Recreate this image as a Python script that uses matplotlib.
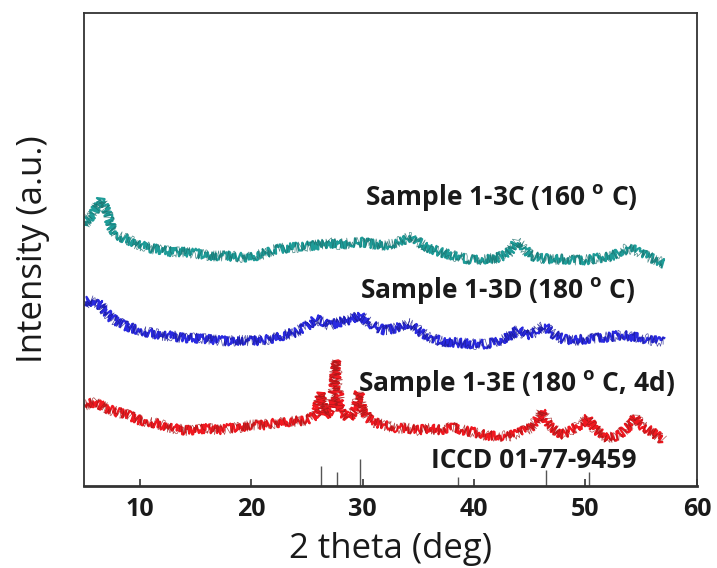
import matplotlib
matplotlib.use("Agg")
import matplotlib.pyplot as plt

plt.rcParams['font.family'] = ['Open Sans', 'DejaVu Sans']
plt.rcParams['mathtext.fontset'] = 'custom'
plt.rcParams['mathtext.rm'] = 'Open Sans'
plt.rcParams['mathtext.bf'] = 'Open Sans:bold'

# 2 theta positions (deg) and intensities (a.u.)
tt_c = [5, 5.5, 6, 6.5, 7, 7.5, 8, 9, 10, 11, 12, 13, 14, 15, 16, 17, 18, 19, 20,
        21, 22, 23, 24, 25, 26, 27, 28, 29, 30, 31, 32, 33, 34, 34.5, 35, 36, 37,
        38, 39, 40, 41, 42, 43, 43.8, 44.3, 45, 46, 47, 48, 49, 50, 51, 52, 53,
        53.8, 54.5, 55, 56, 57]
int_c = [275, 282, 290, 300, 290, 272, 265, 260, 255, 252, 250, 248, 248, 247, 245,
         244, 244, 243, 243, 246, 250, 252, 253, 254, 255, 257, 256, 257, 258, 256,
         255, 257, 262, 264, 258, 252, 248, 245, 242, 240, 241, 242, 246, 258, 255,
         245, 242, 241, 241, 240, 240, 242, 243, 247, 252, 250, 246, 242, 237]

tt_d = [5, 5.5, 6, 6.5, 7, 7.5, 8, 9, 10, 11, 12, 13, 14, 15, 16, 17, 18, 19, 20,
        21, 22, 23, 24, 25, 25.8, 26.5, 27, 28, 29, 29.7, 30.3, 31, 32, 33, 34,
        34.5, 35, 36, 37, 38, 39, 40, 41, 42, 43, 44, 44.7, 45.5, 46.2, 47, 48,
        49, 50, 51, 52, 53, 54, 55, 56, 57]
int_d = [195, 200, 197, 195, 188, 182, 178, 173, 170, 167, 165, 164, 162, 162, 161,
         160, 159, 160, 159, 160, 162, 165, 168, 174, 181, 178, 175, 178, 181, 185,
         180, 174, 170, 172, 177, 175, 170, 163, 159, 158, 157, 156, 156, 158, 163,
         170, 165, 168, 175, 167, 161, 160, 161, 162, 163, 165, 164, 162, 160, 158]

tt_e = [5, 6, 7, 8, 9, 10, 11, 12, 13, 14, 15, 16, 17, 18, 19, 20, 21, 22, 23, 24,
        25, 25.8, 26.2, 26.6, 27.1, 27.4, 27.6, 27.8, 28.1, 28.8, 29.4, 29.7, 30.0,
        30.5, 31, 32, 33, 34, 35, 36, 37, 38, 39, 40, 41, 42, 43, 44, 45, 45.6,
        46.1, 46.7, 47.5, 48, 49, 49.6, 50.2, 50.8, 51.5, 52, 53, 54, 54.5, 55, 56,
        57]
int_e = [95, 98, 92, 88, 85, 80, 78, 75, 72, 70, 70, 72, 70, 72, 73, 75, 75, 77, 78,
         79, 80, 85, 107, 85, 88, 110, 140, 110, 88, 82, 92, 108, 92, 82, 78, 75, 72,
         72, 70, 72, 70, 73, 70, 68, 65, 64, 64, 67, 72, 80, 90, 75, 68, 66, 72, 76,
         82, 72, 65, 62, 65, 75, 83, 75, 68, 60]

# reference pattern sticks
ref_tt = [26.3, 27.7, 29.8, 38.6, 46.5, 50.3]
ref_h = [20, 14, 27, 9, 16, 14]

labels = ['Sample 1-3C (160 $^{\\mathbf{o}}$ C)',
          'Sample 1-3D (180 $^{\\mathbf{o}}$ C)',
          'Sample 1-3E (180 $^{\\mathbf{o}}$ C, 4d)',
          'ICCD 01-77-9459']
label_x = [30.2, 29.8, 29.6, 36.1]
label_y = [303, 210, 117, 40]

fig = plt.figure(figsize=(7.17, 5.68), dpi=100)
ax = fig.add_axes([0.117, 0.144, 0.855, 0.833])

series = [(tt_c, int_c, '#1e9c98', '#1d6e6c'),
          (tt_d, int_d, '#2a2ae0', '#1a1a90'),
          (tt_e, int_e, '#f01820', '#a01818')]
for tt, it, c_light, c_dark in series:
    l1, = ax.plot(tt, it, color=c_light, lw=1.6)
    l1.set_sketch_params(scale=4.5, length=0.7, randomness=3)
    l2, = ax.plot(tt, it, color=c_dark, lw=0.5, alpha=0.8)
    l2.set_sketch_params(scale=5.5, length=0.6, randomness=3)

ax.vlines(ref_tt, 14, [14 + h for h in ref_h], color='#555555', lw=1)

for x, y, s in zip(label_x, label_y, labels):
    ax.text(x, y, s, fontsize=19, fontweight='bold', color='#1a1a1a',
            ha='left', va='center')

ax.set_xlim(5, 60)
ax.set_ylim(14, 487)
ax.set_xticks([10, 20, 30, 40, 50, 60])
ax.set_yticks([])
ax.tick_params(axis='x', direction='in', length=5, width=1.2, colors='#333333',
               labelsize=18, labelcolor='#1a1a1a', pad=8)
for lab in ax.get_xticklabels():
    lab.set_fontweight('bold')
for s in ax.spines.values():
    s.set_color('#333333')
    s.set_linewidth(1.3)
ax.spines['bottom'].set_linewidth(2)

ax.set_xlabel('2 theta (deg)', fontsize=25, color='#1a1a1a', labelpad=7)
ax.set_ylabel('Intensity (a.u.)', fontsize=25, color='#1a1a1a')
ax.yaxis.set_label_coords(-0.055, 0.5)

fig.savefig('out.png', dpi=100)
